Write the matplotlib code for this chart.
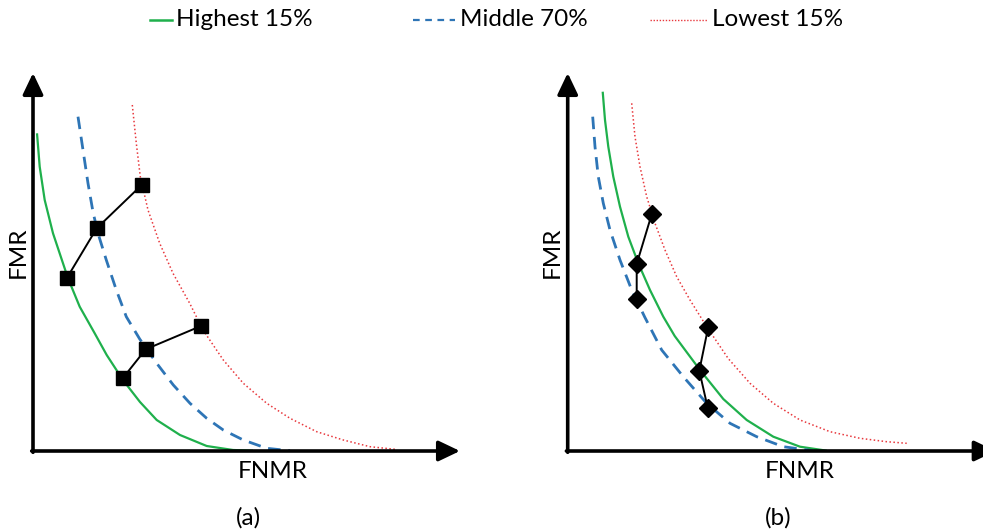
import matplotlib
matplotlib.use("Agg")
import matplotlib.pyplot as plt
from matplotlib.lines import Line2D

plt.rcParams['font.family'] = ['Lato', 'DejaVu Sans']

# curve points, (FNMR, FMR) in pixel-like units from the origin
# panel (a)
a_high_x = [4, 6.7, 11.7, 20, 35, 46.7, 61.7, 73.7, 90.3, 107, 123.7, 147, 173.7, 200, 220]
a_high_y = [317.7, 284.3, 251, 217.7, 172.7, 144.3, 117.7, 96, 70.5, 49, 31, 16, 5, 1, 0.3]
a_mid_x = [45, 50, 55, 60, 65, 73.3, 83.3, 93.3, 106.7, 123.7, 140.3, 157, 173.7, 190.3,
           210.3, 233.7, 257]
a_mid_y = [334.3, 301, 267.7, 239, 217.7, 191, 161, 134.3, 112, 87.7, 66, 47.7, 32.7, 21,
           11, 2.7, 0.3]
a_low_x = [99.3, 103.3, 107.3, 115, 126.7, 140, 156.7, 170, 190.3, 210.3, 233.7, 257, 283.7,
           310.3, 337, 362]
a_low_y = [346, 307.7, 274.3, 241, 207.7, 177.7, 147.7, 121, 91, 67.7, 47.7, 32.7, 19.3,
           11, 4.3, 1.7]
a_pts1_x = [33.7, 63.7, 108.7]
a_pts1_y = [172.7, 222.7, 266]
a_pts2_x = [89.7, 112.7, 168]
a_pts2_y = [72.7, 101.7, 125]

# panel (b)
b_high_x = [35, 37.3, 40.6, 45.6, 52.3, 60.6, 70.6, 82.3, 95.6, 107, 120, 132.3, 155.6,
            179, 205.6, 232.3, 259]
b_high_y = [359.3, 331, 304.3, 274.3, 244.3, 214.3, 187.7, 161, 134.3, 115, 97.5, 81, 52,
            31, 14.3, 4.3, 0.3]
b_mid_x = [25, 27.3, 30.6, 35.6, 42.3, 52.3, 64, 77, 94, 115.6, 139, 162.3, 189, 215.6, 245]
b_mid_y = [334.3, 304.3, 274.3, 247.7, 221, 191, 161, 134, 101, 74.3, 47.7, 27.7, 14.3, 4.3,
           0.3]
b_low_x = [64, 67.3, 72.3, 79, 87.3, 97.3, 109, 122.3, 139, 160.5, 182.3, 205.6, 232.3,
           262.3, 292.3, 319, 339]
b_low_y = [347.7, 314.3, 284.3, 254.3, 227.7, 201, 174.3, 151, 124.3, 92.5, 67.7, 47.7, 31,
           19.3, 12.7, 9.3, 7.7]
b_pts1_x = [84, 69, 69]
b_pts1_y = [236.7, 187, 151.7]
b_pts2_x = [140.6, 131.6, 140]
b_pts2_y = [124.3, 80.3, 43.3]

labels = ['Highest 15%', 'Middle 70%', 'Lowest 15%']
green = '#1fb04c'
blue = '#2e75b6'
red = '#e8383d'

W, H = 983, 531
fig = plt.figure(figsize=(W / 100, H / 100), dpi=100)


def make_panel(left, width, xtip):
    ax = fig.add_axes([left / W, (H - 451) / H, width / W, 385 / H])
    ax.set_xlim(0, width)
    ax.set_ylim(0, 385)
    ax.axis('off')
    arrow = dict(arrowstyle='-|>,head_length=1.3,head_width=0.62', lw=2.6,
                 color='black', mutation_scale=10, shrinkA=0, shrinkB=0)
    ax.annotate('', xy=(0, 378), xytext=(0, -1.3), arrowprops=arrow,
                annotation_clip=False)
    ax.annotate('', xy=(xtip, 0), xytext=(-1.3, 0), arrowprops=arrow,
                annotation_clip=False)
    return ax


def draw(ax, hx, hy, mx, my, lx, ly, p1, p2, marker, ms):
    ax.plot(hx, hy, color=green, lw=1.6, solid_capstyle='butt')
    ax.plot(mx, my, color=blue, lw=2.0, dashes=(4.5, 2.8))
    ax.plot(lx, ly, color=red, lw=1.1, dashes=(1, 1.6))
    for px, py in (p1, p2):
        ax.plot(px, py, color='black', lw=1.4, marker=marker, ms=ms,
                mfc='black', mec='black')


ax_a = make_panel(33, 440, 427)
draw(ax_a, a_high_x, a_high_y, a_mid_x, a_mid_y, a_low_x, a_low_y,
     (a_pts1_x, a_pts1_y), (a_pts2_x, a_pts2_y), 's', 10)

ax_b = make_panel(567.7, 416, 428)
draw(ax_b, b_high_x, b_high_y, b_mid_x, b_mid_y, b_low_x, b_low_y,
     (b_pts1_x, b_pts1_y), (b_pts2_x, b_pts2_y), 'D', 9)

fs = 17.5
fig.text(18 / W, 1 - 252 / H, 'FMR', rotation=90, ha='center', va='center', fontsize=fs)
fig.text(552 / W, 1 - 252 / H, 'FMR', rotation=90, ha='center', va='center', fontsize=fs)
fig.text(273 / W, 1 - 472 / H, 'FNMR', ha='center', va='center', fontsize=fs)
fig.text(800 / W, 1 - 472 / H, 'FNMR', ha='center', va='center', fontsize=fs)
fig.text(248 / W, 1 - 518 / H, '(a)', ha='center', va='center', fontsize=fs)
fig.text(778 / W, 1 - 518 / H, '(b)', ha='center', va='center', fontsize=fs)

# legend drawn by hand, handle lengths differ per entry
ly = 1 - 20 / H
fig.add_artist(Line2D([150 / W, 172 / W], [ly, ly], color=green, lw=1.8))
fig.add_artist(Line2D([413 / W, 455 / W], [ly, ly], color=blue, lw=1.6, dashes=(3, 2.5)))
fig.add_artist(Line2D([650 / W, 708 / W], [ly, ly], color=red, lw=1.0, dashes=(1, 1.2)))
for x0, lab in zip([176, 460, 712], labels):
    fig.text(x0 / W, 1 - 19 / H, lab, ha='left', va='center', fontsize=fs)

fig.savefig('out.png', dpi=100)
